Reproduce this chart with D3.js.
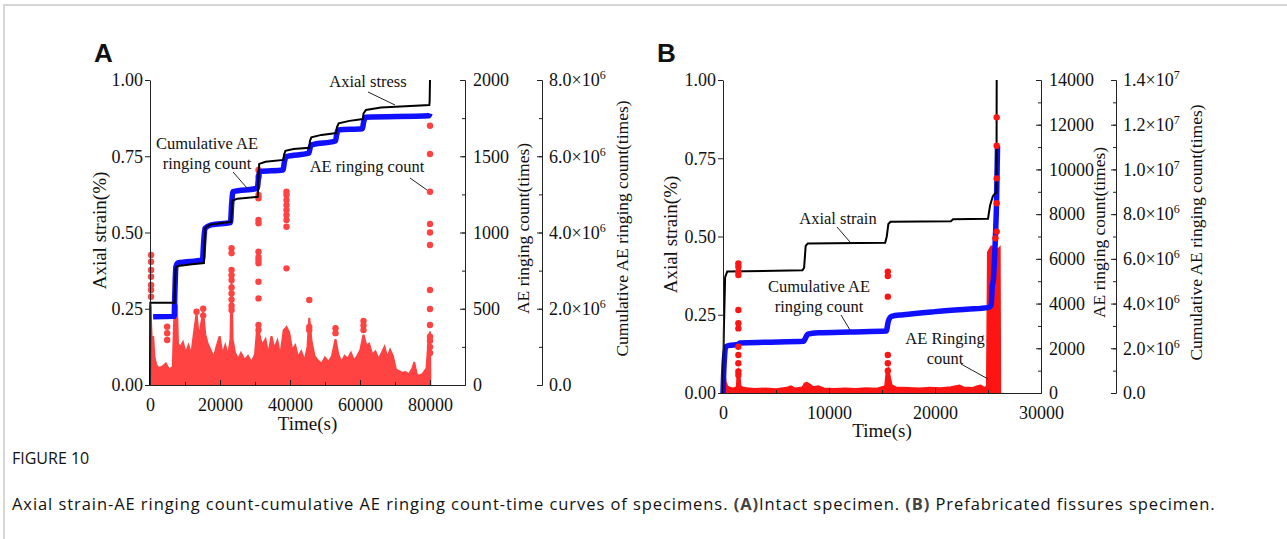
<!DOCTYPE html>
<html>
<head>
<meta charset="utf-8">
<script src="https://cdn.jsdelivr.net/npm/d3@7"></script>
<style>
  body { margin: 0; background: #fff; }
  svg text { font-family: "Liberation Serif", "Times New Roman", serif; fill: #111; }
</style>
</head>
<body>
<div id="chart"></div>
<script>
// ---- panel A (intact specimen) : [time s, value]
const strainA = [[0,0],[100,0.27],[7000,0.27],[7150,0.33],[7350,0.385],[8000,0.39],[12000,0.396],[15400,0.40],[15600,0.46],[15800,0.515],[17000,0.525],[21000,0.532],[23200,0.535],[23400,0.58],[23600,0.605],[25000,0.611],[30800,0.617],[30950,0.68],[31200,0.725],[33000,0.732],[38100,0.738],[38300,0.755],[38700,0.768],[41000,0.774],[45500,0.778],[45700,0.80],[46100,0.812],[49000,0.82],[53200,0.826],[53400,0.845],[53900,0.858],[57000,0.866],[60800,0.872],[61000,0.89],[61700,0.902],[66000,0.91],[73000,0.914],[79800,0.918],[79900,0.93],[80000,1.0]];
const cumA = [[900,1.79e6],[6900,1.80e6],[7100,2.4e6],[7400,3.1e6],[8000,3.2e6],[15000,3.28e6],[15300,3.7e6],[15700,4.11e6],[17500,4.2e6],[23000,4.26e6],[23300,4.7e6],[23700,5.07e6],[30700,5.16e6],[30900,5.35e6],[31400,5.6e6],[38000,5.64e6],[38400,5.85e6],[38900,5.99e6],[45400,6.08e6],[45700,6.2e6],[46100,6.3e6],[53000,6.4e6],[53300,6.55e6],[53800,6.69e6],[60700,6.72e6],[61000,6.88e6],[61600,7.02e6],[79700,7.06e6],[80000,7.12e6]];
const aeBandA = [[0,0],[100,520],[500,300],[900,320],[1300,180],[1800,130],[2500,110],[3500,120],[4500,140],[5500,100],[6500,120],[6900,420],[7300,540],[7700,520],[8000,270],[8700,250],[9400,280],[10200,210],[11000,260],[11800,200],[12500,330],[13300,470],[14000,300],[14600,400],[15200,480],[15800,330],[16500,270],[17300,230],[18200,180],[19000,250],[19900,320],[20700,200],[21500,260],[22300,190],[23000,300],[23300,700],[23600,300],[24300,210],[25200,170],[26000,210],[27000,165],[28000,190],[29000,150],[30000,200],[30700,400],[31300,330],[32000,260],[33000,300],[33800,200],[34700,320],[35500,240],[36400,290],[37200,190],[38200,360],[39000,380],[39800,340],[40600,230],[41500,260],[42300,180],[43200,220],[44200,160],[45000,250],[45500,440],[46200,280],[47000,190],[48000,160],[49000,140],[50000,180],[51000,150],[52000,190],[53000,300],[53800,200],[54700,150],[55600,190],[56500,170],[57400,210],[58300,160],[59200,190],[60100,230],[61000,330],[61800,260],[62600,270],[63500,200],[64400,220],[65300,170],[66200,210],[67000,250],[67800,180],[68600,230],[69400,190],[70300,100],[71200,90],[72100,80],[73000,85],[74000,70],[75000,110],[75500,150],[76200,70],[77000,60],[78000,75],[79000,110],[79600,300],[80000,350],[80100,0]];
const aeDotsA = [[300,852],[300,808],[300,754],[300,710],[300,656],[300,623],[300,579],
  [4900,382],[4900,339],[4900,295],[13300,480],[15200,500],[15200,455],
  [23300,897],[23300,864],[23300,754],[23300,720],[23300,688],[23300,640],[23300,600],[23300,560],[23300,520],[23300,492],
  [31000,1410],[31000,1366],[31000,1246],[31000,1224],[31000,1082],[31000,1060],[31000,874],[31000,840],[31000,820],[31000,798],[31000,677],[31000,568],[31000,393],[31000,360],
  [39000,1268],[39000,1246],[39000,1213],[39000,1180],[39000,1148],[39000,1115],[39000,1082],[39000,1038],[39000,765],[39000,340],
  [45500,557],[45500,380],[45500,360],[53000,372],[53000,340],[61000,420],[61000,390],[61000,360],
  [80000,1700],[80000,1515],[80000,1267],[80000,1056],[80000,1000],[80000,918],[80000,623],[80000,498],[80000,393],[80000,317],[80000,290],[80000,250],[80000,210]];

// ---- panel B (prefabricated fissures)
const strainB = [[0,0],[80,0.2],[200,0.37],[400,0.388],[7500,0.392],[7650,0.40],[7800,0.47],[8000,0.478],[15300,0.48],[15450,0.50],[15600,0.54],[15800,0.547],[21500,0.549],[21700,0.555],[25000,0.557],[25200,0.60],[25450,0.628],[25600,0.635],[25800,0.64],[25820,1.0]];
const cumB = [[0,0],[100,1.26e6],[300,2.07e6],[600,2.13e6],[1400,2.17e6],[1600,2.24e6],[4000,2.27e6],[7600,2.31e6],[7700,2.38e6],[8000,2.63e6],[9000,2.69e6],[12000,2.73e6],[15400,2.77e6],[15600,3.22e6],[15900,3.43e6],[17000,3.5e6],[20000,3.64e6],[23000,3.75e6],[25000,3.82e6],[25300,3.92e6],[25400,4.76e6],[25500,5.04e6],[25700,7.0e6],[25800,8.4e6],[25900,11.06e6]];
const aeBandB = [[0,0],[30,1100],[120,1000],[250,500],[400,300],[700,220],[1000,200],[1300,260],[1380,900],[1450,1000],[1550,800],[1650,300],[2000,220],[3000,180],[4000,200],[5000,170],[6000,230],[6400,300],[6800,200],[7500,250],[7700,420],[7900,450],[8200,380],[8500,260],[9000,300],[9500,200],[10500,180],[11500,200],[12500,180],[13500,210],[14500,190],[15300,300],[15450,1000],[15600,1100],[15750,700],[15900,350],[16300,250],[17500,220],[18500,200],[19500,230],[20500,210],[21500,260],[22300,330],[22700,250],[23500,220],[24000,300],[24300,330],[24700,220],[24900,300],[25000,6300],[25300,6550],[25600,6500],[25900,6400],[26100,6500],[26150,0]];
const aeDotsB = [[1450,5800],[1450,5650],[1450,5430],[1450,5280],[1450,3710],[1450,3120],[1450,2890],[1450,2070],[1450,1700],[1450,1330],[1450,960],[1450,800],
  [15550,5430],[15550,5230],[15550,4310],[15550,1700],[15550,1330],[15550,1000],
  [25820,12330],[25820,11060],[25820,9600],[25820,8490],[25820,7220],[25700,6920]];

// ticks
const strainTicks = [0, 0.25, 0.5, 0.75, 1];
const timeTicksA = [0, 20000, 40000, 60000, 80000];
const timeMinorA = d3.range(0, 90001, 10000);
const timeTicksB = [0, 10000, 20000, 30000];
const timeMinorB = d3.range(0, 30001, 5000);
const countTicksA = [0, 500, 1000, 1500, 2000];
const countMinorA = d3.range(0, 2001, 250);
const cumTicksA = [0, 2e6, 4e6, 6e6, 8e6];
const cumMinorA = d3.range(0, 8e6 + 1, 1e6);
const countTicksB = d3.range(0, 14001, 2000);
const countMinorB = d3.range(0, 14001, 1000);
const cumTicksB = d3.range(0, 1.4e7 + 1, 2e6);
const cumMinorB = d3.range(0, 1.4e7 + 1, 1e6);

const svg = d3.select("#chart").append("svg")
    .attr("width", 1287)
    .attr("height", 539);

// page frame
svg.append("path")
    .attr("d", "M4,539V5H1287")
    .attr("fill", "none")
    .attr("stroke", "#d6d6d6")
    .attr("stroke-width", 2);

const sciFormat = function(d) {
    const t = d3.select(this).text("");
    if (d === 0) { t.text("0.0"); return; }
    const e = Math.floor(Math.log10(d) + 1e-9);
    t.append("tspan").text(`${(d / 10 ** e).toFixed(1)}×10`);
    t.append("tspan").attr("dy", -7).attr("font-size", 12).text(e);
};

function drawPanel(p) {
    const g = svg.append("g").attr("transform", `translate(${p.left}, ${p.top})`);
    const x = d3.scaleLinear().domain([0, p.xMax]).range([0, p.width]);
    const yS = d3.scaleLinear().domain([0, 1]).range([p.height, 0]);
    const yC = d3.scaleLinear().domain([0, p.countMax]).range([p.height, 0]);
    const yK = d3.scaleLinear().domain([0, p.cumMax]).range([p.height, 0]);

    const band = () => g.append("path")
        .datum(p.band)
        .attr("fill", p.red)
        .attr("stroke", p.red)
        .attr("stroke-width", 2)
        .attr("d", d3.area().x(d => x(d[0])).y0(yC(0)).y1(d => yC(d[1])));
    const dots = () => g.append("g").selectAll("circle")
        .data(p.dots).join("circle")
        .attr("cx", d => x(d[0]))
        .attr("cy", d => yC(d[1]))
        .attr("r", 3.2)
        .attr("fill", p.red);
    const cum = () => g.append("path")
        .datum(p.cum)
        .attr("fill", "none")
        .attr("stroke", "#1010ff")
        .attr("stroke-width", 5.5)
        .attr("stroke-linejoin", "round")
        .attr("d", d3.line().x(d => x(d[0])).y(d => yK(d[1])).curve(d3.curveMonotoneX));
    const strain = () => g.append("path")
        .datum(p.strain)
        .attr("fill", "none")
        .attr("stroke", "#000")
        .attr("stroke-width", 2)
        .attr("d", d3.line().x(d => x(d[0])).y(d => yS(d[1])));

    if (p.redOnTop) { band(); cum(); strain(); dots(); }
    else { band(); dots(); cum(); strain(); }

    // axes
    const tidy = a => a.selectAll("path,line").attr("stroke", "#222");
    g.append("g")
        .call(d3.axisLeft(yS).tickValues(strainTicks).tickFormat(d3.format(".2f"))
            .tickSizeInner(5).tickSizeOuter(0).tickPadding(2))
        .call(tidy);
    g.append("g")
        .attr("transform", `translate(0, ${p.height})`)
        .call(d3.axisBottom(x).tickValues(p.xTicks).tickFormat(d3.format("d"))
            .tickSizeInner(-5).tickSizeOuter(0).tickPadding(13.5))
        .call(tidy);
    g.append("g")
        .attr("transform", `translate(0, ${p.height})`)
        .call(d3.axisBottom(x).tickValues(p.xMinor).tickFormat("").tickSizeInner(-3).tickSizeOuter(0))
        .call(tidy);

    g.append("g")
        .attr("transform", `translate(${p.width}, 0)`)
        .call(d3.axisRight(yC).tickValues(p.countTicks).tickFormat(d3.format("d"))
            .tickSizeInner(-5).tickSizeOuter(0).tickPadding(8))
        .call(tidy);
    g.append("g")
        .attr("transform", `translate(${p.width}, 0)`)
        .call(d3.axisRight(yC).tickValues(p.countMinor).tickFormat("").tickSizeInner(-3).tickSizeOuter(0))
        .call(tidy);

    g.append("g")
        .attr("transform", `translate(${p.width + p.cumGap}, 0)`)
        .call(d3.axisRight(yK).tickValues(p.cumTicks).tickSizeInner(-5).tickSizeOuter(0).tickPadding(7))
        .call(tidy)
        .call(a => a.selectAll(".tick text").each(sciFormat));
    g.append("g")
        .attr("transform", `translate(${p.width + p.cumGap}, 0)`)
        .call(d3.axisRight(yK).tickValues(p.cumMinor).tickFormat("").tickSizeInner(-3).tickSizeOuter(0))
        .call(tidy);

    g.selectAll(".tick text").attr("font-size", 18).attr("font-family", "Liberation Serif").attr("fill", "#111");

    // titles
    g.append("text")
        .attr("transform", "rotate(-90)")
        .attr("x", -p.height / 2 + 2)
        .attr("y", p.leftTitleX)
        .attr("text-anchor", "middle")
        .attr("font-size", 19)
        .text("Axial strain(%)");
    g.append("text")
        .attr("x", p.width / 2)
        .attr("y", p.height + p.timeTitleY)
        .attr("text-anchor", "middle")
        .attr("font-size", 19)
        .text("Time(s)");
    g.append("text")
        .attr("transform", "rotate(-90)")
        .attr("x", -p.height / 2 + 4)
        .attr("y", p.width + 64)
        .attr("text-anchor", "middle")
        .attr("font-size", 17.5)
        .text("AE ringing count(times)");
    g.append("text")
        .attr("transform", "rotate(-90)")
        .attr("x", -p.height / 2 + 4)
        .attr("y", p.width + p.cumGap + 86)
        .attr("text-anchor", "middle")
        .attr("font-size", 17.5)
        .text("Cumulative AE ringing count(times)");

    // annotations
    p.notes.forEach(n => {
        n.lines.forEach((s, i) => g.append("text")
            .attr("x", n.x - p.left)
            .attr("y", n.y - p.top + i * 20)
            .attr("text-anchor", "middle")
            .attr("font-size", 16.5)
            .text(s));
        g.append("line")
            .attr("x1", n.leader[0] - p.left).attr("y1", n.leader[1] - p.top)
            .attr("x2", n.leader[2] - p.left).attr("y2", n.leader[3] - p.top)
            .attr("stroke", "#222").attr("stroke-width", 1);
    });

    svg.append("text")
        .attr("x", p.letterX)
        .attr("y", 62)
        .attr("font-weight", "bold")
        .attr("font-size", 26)
        .style("font-family", "'Liberation Sans', Arial, sans-serif")
        .text(p.letter);
}

drawPanel({
    letter: "A", letterX: 94,
    left: 150, top: 80, width: 315, height: 305, xMax: 90000,
    countMax: 2000, cumMax: 8e6, cumGap: 77,
    xTicks: timeTicksA, xMinor: timeMinorA,
    countTicks: countTicksA, countMinor: countMinorA,
    cumTicks: cumTicksA, cumMinor: cumMinorA,
    strain: strainA, cum: cumA, band: aeBandA, dots: aeDotsA,
    red: "#ff4242", redOnTop: false,
    leftTitleX: -44, timeTitleY: 45,
    notes: [
        {lines: ["Axial stress"], x: 368, y: 87, leader: [368, 92, 395, 105]},
        {lines: ["Cumulative AE", "ringing count"], x: 207, y: 149, leader: [233, 172, 247, 188]},
        {lines: ["AE ringing count"], x: 367, y: 172, leader: [410, 178, 427, 190]}
    ]
});

drawPanel({
    letter: "B", letterX: 657,
    left: 723, top: 80, width: 318, height: 313, xMax: 30000,
    countMax: 14000, cumMax: 1.4e7, cumGap: 75,
    xTicks: timeTicksB, xMinor: timeMinorB,
    countTicks: countTicksB, countMinor: countMinorB,
    cumTicks: cumTicksB, cumMinor: cumMinorB,
    strain: strainB, cum: cumB, band: aeBandB, dots: aeDotsB,
    red: "#ff1414", redOnTop: true,
    leftTitleX: -46, timeTitleY: 44,
    notes: [
        {lines: ["Axial strain"], x: 838, y: 224, leader: [837, 227, 850, 242]},
        {lines: ["Cumulative AE", "ringing count"], x: 819, y: 292, leader: [841, 315, 850, 330]},
        {lines: ["AE Ringing", "count"], x: 945, y: 344, leader: [961, 364, 988, 379]}
    ]
});

// caption
svg.append("text")
    .attr("x", 12).attr("y", 464)
    .style("font-family", "'Open Sans', 'Noto Sans', sans-serif")
    .attr("font-size", 16)
    .attr("fill", "#555")
    .text("FIGURE 10");
const cap = svg.append("text")
    .attr("x", 12).attr("y", 510)
    .style("font-family", "'Open Sans', 'Noto Sans', sans-serif")
    .style("letter-spacing", "0.93px")
    .attr("font-size", 16.5)
    .attr("fill", "#666");
cap.append("tspan").text("Axial strain-AE ringing count-cumulative AE ringing count-time curves of specimens. ");
cap.append("tspan").attr("font-weight", "bold").attr("fill", "#444").text("(A)");
cap.append("tspan").text("Intact specimen. ");
cap.append("tspan").attr("font-weight", "bold").attr("fill", "#444").text("(B)");
cap.append("tspan").text(" Prefabricated fissures specimen.");
</script>
</body>
</html>
